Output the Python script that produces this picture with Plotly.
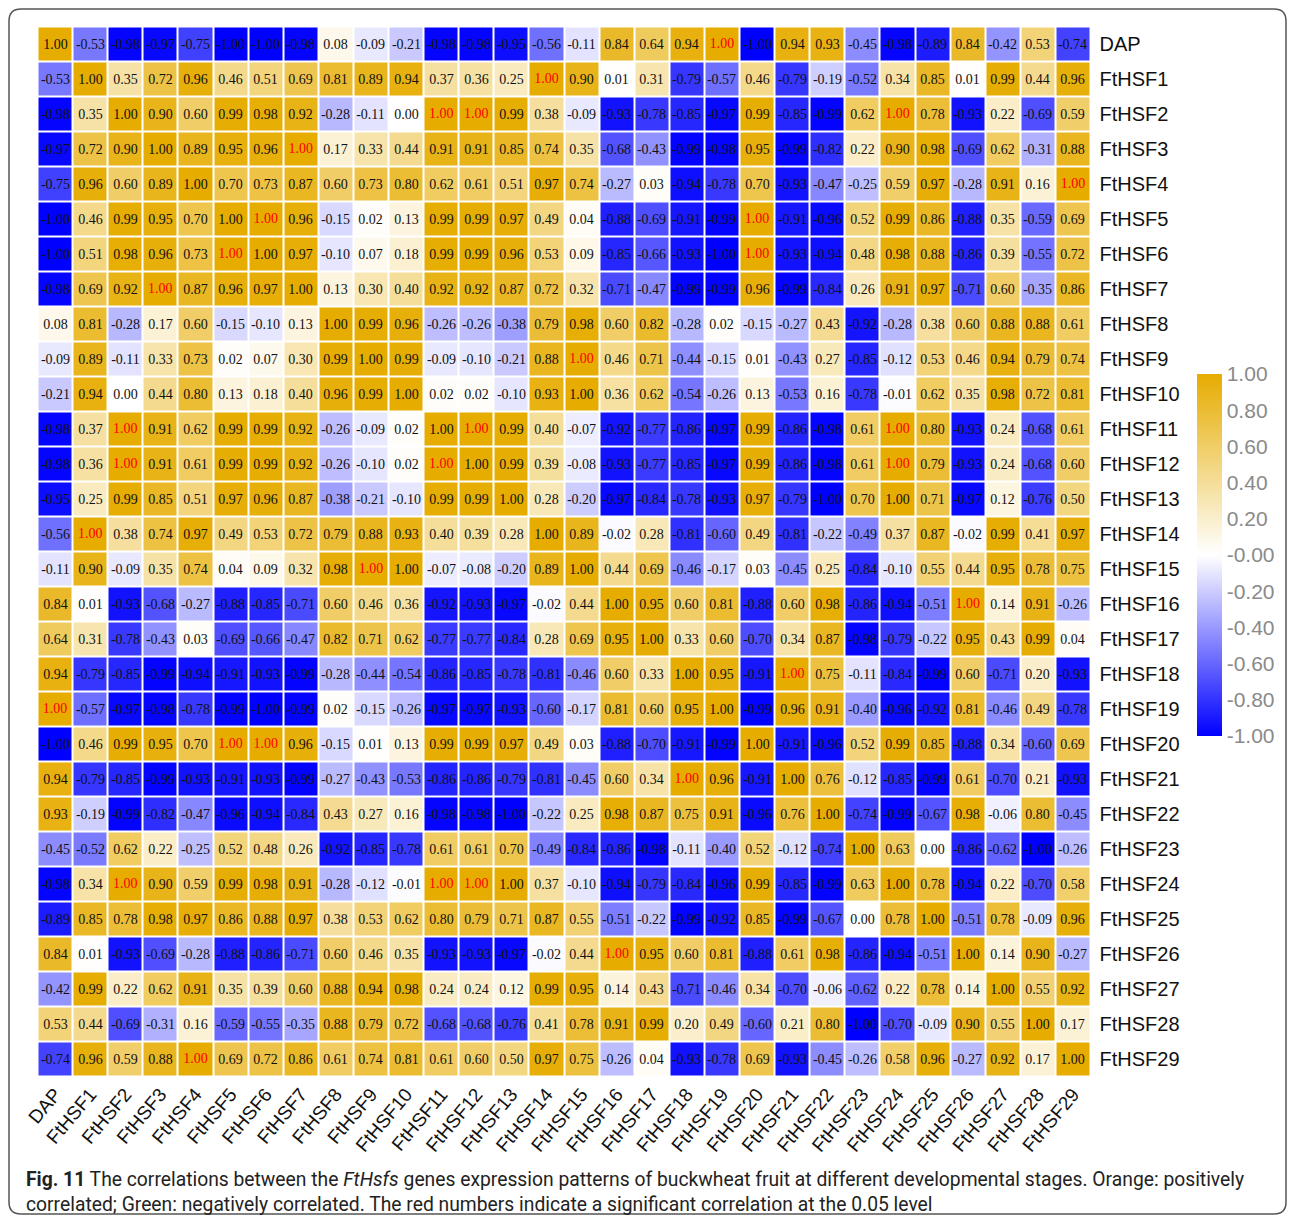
import plotly.graph_objects as go

labels = ["DAP"] + [f"FtHSF{i}" for i in range(1, 30)]

corr = [
    [1.00, -0.53, -0.98, -0.97, -0.75, -1.00, -1.00, -0.98, 0.08, -0.09, -0.21, -0.98, -0.98, -0.95, -0.56, -0.11, 0.84, 0.64, 0.94, 1.00, -1.00, 0.94, 0.93, -0.45, -0.98, -0.89, 0.84, -0.42, 0.53, -0.74],
    [-0.53, 1.00, 0.35, 0.72, 0.96, 0.46, 0.51, 0.69, 0.81, 0.89, 0.94, 0.37, 0.36, 0.25, 1.00, 0.90, 0.01, 0.31, -0.79, -0.57, 0.46, -0.79, -0.19, -0.52, 0.34, 0.85, 0.01, 0.99, 0.44, 0.96],
    [-0.98, 0.35, 1.00, 0.90, 0.60, 0.99, 0.98, 0.92, -0.28, -0.11, 0.00, 1.00, 1.00, 0.99, 0.38, -0.09, -0.93, -0.78, -0.85, -0.97, 0.99, -0.85, -0.99, 0.62, 1.00, 0.78, -0.93, 0.22, -0.69, 0.59],
    [-0.97, 0.72, 0.90, 1.00, 0.89, 0.95, 0.96, 1.00, 0.17, 0.33, 0.44, 0.91, 0.91, 0.85, 0.74, 0.35, -0.68, -0.43, -0.99, -0.98, 0.95, -0.99, -0.82, 0.22, 0.90, 0.98, -0.69, 0.62, -0.31, 0.88],
    [-0.75, 0.96, 0.60, 0.89, 1.00, 0.70, 0.73, 0.87, 0.60, 0.73, 0.80, 0.62, 0.61, 0.51, 0.97, 0.74, -0.27, 0.03, -0.94, -0.78, 0.70, -0.93, -0.47, -0.25, 0.59, 0.97, -0.28, 0.91, 0.16, 1.00],
    [-1.00, 0.46, 0.99, 0.95, 0.70, 1.00, 1.00, 0.96, -0.15, 0.02, 0.13, 0.99, 0.99, 0.97, 0.49, 0.04, -0.88, -0.69, -0.91, -0.99, 1.00, -0.91, -0.96, 0.52, 0.99, 0.86, -0.88, 0.35, -0.59, 0.69],
    [-1.00, 0.51, 0.98, 0.96, 0.73, 1.00, 1.00, 0.97, -0.10, 0.07, 0.18, 0.99, 0.99, 0.96, 0.53, 0.09, -0.85, -0.66, -0.93, -1.00, 1.00, -0.93, -0.94, 0.48, 0.98, 0.88, -0.86, 0.39, -0.55, 0.72],
    [-0.98, 0.69, 0.92, 1.00, 0.87, 0.96, 0.97, 1.00, 0.13, 0.30, 0.40, 0.92, 0.92, 0.87, 0.72, 0.32, -0.71, -0.47, -0.99, -0.99, 0.96, -0.99, -0.84, 0.26, 0.91, 0.97, -0.71, 0.60, -0.35, 0.86],
    [0.08, 0.81, -0.28, 0.17, 0.60, -0.15, -0.10, 0.13, 1.00, 0.99, 0.96, -0.26, -0.26, -0.38, 0.79, 0.98, 0.60, 0.82, -0.28, 0.02, -0.15, -0.27, 0.43, -0.92, -0.28, 0.38, 0.60, 0.88, 0.88, 0.61],
    [-0.09, 0.89, -0.11, 0.33, 0.73, 0.02, 0.07, 0.30, 0.99, 1.00, 0.99, -0.09, -0.10, -0.21, 0.88, 1.00, 0.46, 0.71, -0.44, -0.15, 0.01, -0.43, 0.27, -0.85, -0.12, 0.53, 0.46, 0.94, 0.79, 0.74],
    [-0.21, 0.94, 0.00, 0.44, 0.80, 0.13, 0.18, 0.40, 0.96, 0.99, 1.00, 0.02, 0.02, -0.10, 0.93, 1.00, 0.36, 0.62, -0.54, -0.26, 0.13, -0.53, 0.16, -0.78, -0.01, 0.62, 0.35, 0.98, 0.72, 0.81],
    [-0.98, 0.37, 1.00, 0.91, 0.62, 0.99, 0.99, 0.92, -0.26, -0.09, 0.02, 1.00, 1.00, 0.99, 0.40, -0.07, -0.92, -0.77, -0.86, -0.97, 0.99, -0.86, -0.98, 0.61, 1.00, 0.80, -0.93, 0.24, -0.68, 0.61],
    [-0.98, 0.36, 1.00, 0.91, 0.61, 0.99, 0.99, 0.92, -0.26, -0.10, 0.02, 1.00, 1.00, 0.99, 0.39, -0.08, -0.93, -0.77, -0.85, -0.97, 0.99, -0.86, -0.98, 0.61, 1.00, 0.79, -0.93, 0.24, -0.68, 0.60],
    [-0.95, 0.25, 0.99, 0.85, 0.51, 0.97, 0.96, 0.87, -0.38, -0.21, -0.10, 0.99, 0.99, 1.00, 0.28, -0.20, -0.97, -0.84, -0.78, -0.93, 0.97, -0.79, -1.00, 0.70, 1.00, 0.71, -0.97, 0.12, -0.76, 0.50],
    [-0.56, 1.00, 0.38, 0.74, 0.97, 0.49, 0.53, 0.72, 0.79, 0.88, 0.93, 0.40, 0.39, 0.28, 1.00, 0.89, -0.02, 0.28, -0.81, -0.60, 0.49, -0.81, -0.22, -0.49, 0.37, 0.87, -0.02, 0.99, 0.41, 0.97],
    [-0.11, 0.90, -0.09, 0.35, 0.74, 0.04, 0.09, 0.32, 0.98, 1.00, 1.00, -0.07, -0.08, -0.20, 0.89, 1.00, 0.44, 0.69, -0.46, -0.17, 0.03, -0.45, 0.25, -0.84, -0.10, 0.55, 0.44, 0.95, 0.78, 0.75],
    [0.84, 0.01, -0.93, -0.68, -0.27, -0.88, -0.85, -0.71, 0.60, 0.46, 0.36, -0.92, -0.93, -0.97, -0.02, 0.44, 1.00, 0.95, 0.60, 0.81, -0.88, 0.60, 0.98, -0.86, -0.94, -0.51, 1.00, 0.14, 0.91, -0.26],
    [0.64, 0.31, -0.78, -0.43, 0.03, -0.69, -0.66, -0.47, 0.82, 0.71, 0.62, -0.77, -0.77, -0.84, 0.28, 0.69, 0.95, 1.00, 0.33, 0.60, -0.70, 0.34, 0.87, -0.98, -0.79, -0.22, 0.95, 0.43, 0.99, 0.04],
    [0.94, -0.79, -0.85, -0.99, -0.94, -0.91, -0.93, -0.99, -0.28, -0.44, -0.54, -0.86, -0.85, -0.78, -0.81, -0.46, 0.60, 0.33, 1.00, 0.95, -0.91, 1.00, 0.75, -0.11, -0.84, -0.99, 0.60, -0.71, 0.20, -0.93],
    [1.00, -0.57, -0.97, -0.98, -0.78, -0.99, -1.00, -0.99, 0.02, -0.15, -0.26, -0.97, -0.97, -0.93, -0.60, -0.17, 0.81, 0.60, 0.95, 1.00, -0.99, 0.96, 0.91, -0.40, -0.96, -0.92, 0.81, -0.46, 0.49, -0.78],
    [-1.00, 0.46, 0.99, 0.95, 0.70, 1.00, 1.00, 0.96, -0.15, 0.01, 0.13, 0.99, 0.99, 0.97, 0.49, 0.03, -0.88, -0.70, -0.91, -0.99, 1.00, -0.91, -0.96, 0.52, 0.99, 0.85, -0.88, 0.34, -0.60, 0.69],
    [0.94, -0.79, -0.85, -0.99, -0.93, -0.91, -0.93, -0.99, -0.27, -0.43, -0.53, -0.86, -0.86, -0.79, -0.81, -0.45, 0.60, 0.34, 1.00, 0.96, -0.91, 1.00, 0.76, -0.12, -0.85, -0.99, 0.61, -0.70, 0.21, -0.93],
    [0.93, -0.19, -0.99, -0.82, -0.47, -0.96, -0.94, -0.84, 0.43, 0.27, 0.16, -0.98, -0.98, -1.00, -0.22, 0.25, 0.98, 0.87, 0.75, 0.91, -0.96, 0.76, 1.00, -0.74, -0.99, -0.67, 0.98, -0.06, 0.80, -0.45],
    [-0.45, -0.52, 0.62, 0.22, -0.25, 0.52, 0.48, 0.26, -0.92, -0.85, -0.78, 0.61, 0.61, 0.70, -0.49, -0.84, -0.86, -0.98, -0.11, -0.40, 0.52, -0.12, -0.74, 1.00, 0.63, 0.00, -0.86, -0.62, -1.00, -0.26],
    [-0.98, 0.34, 1.00, 0.90, 0.59, 0.99, 0.98, 0.91, -0.28, -0.12, -0.01, 1.00, 1.00, 1.00, 0.37, -0.10, -0.94, -0.79, -0.84, -0.96, 0.99, -0.85, -0.99, 0.63, 1.00, 0.78, -0.94, 0.22, -0.70, 0.58],
    [-0.89, 0.85, 0.78, 0.98, 0.97, 0.86, 0.88, 0.97, 0.38, 0.53, 0.62, 0.80, 0.79, 0.71, 0.87, 0.55, -0.51, -0.22, -0.99, -0.92, 0.85, -0.99, -0.67, 0.00, 0.78, 1.00, -0.51, 0.78, -0.09, 0.96],
    [0.84, 0.01, -0.93, -0.69, -0.28, -0.88, -0.86, -0.71, 0.60, 0.46, 0.35, -0.93, -0.93, -0.97, -0.02, 0.44, 1.00, 0.95, 0.60, 0.81, -0.88, 0.61, 0.98, -0.86, -0.94, -0.51, 1.00, 0.14, 0.90, -0.27],
    [-0.42, 0.99, 0.22, 0.62, 0.91, 0.35, 0.39, 0.60, 0.88, 0.94, 0.98, 0.24, 0.24, 0.12, 0.99, 0.95, 0.14, 0.43, -0.71, -0.46, 0.34, -0.70, -0.06, -0.62, 0.22, 0.78, 0.14, 1.00, 0.55, 0.92],
    [0.53, 0.44, -0.69, -0.31, 0.16, -0.59, -0.55, -0.35, 0.88, 0.79, 0.72, -0.68, -0.68, -0.76, 0.41, 0.78, 0.91, 0.99, 0.20, 0.49, -0.60, 0.21, 0.80, -1.00, -0.70, -0.09, 0.90, 0.55, 1.00, 0.17],
    [-0.74, 0.96, 0.59, 0.88, 1.00, 0.69, 0.72, 0.86, 0.61, 0.74, 0.81, 0.61, 0.60, 0.50, 0.97, 0.75, -0.26, 0.04, -0.93, -0.78, 0.69, -0.93, -0.45, -0.26, 0.58, 0.96, -0.27, 0.92, 0.17, 1.00],
]

# (row index, column index) of cells whose number is printed in red (p < 0.05)
significant = [
    (0, 19), (19, 0), (1, 14), (14, 1), (2, 11), (2, 12), (2, 24), (11, 2), (12, 2), (24, 2),
    (3, 7), (7, 3), (4, 29), (29, 4), (5, 6), (6, 5), (5, 20), (6, 20), (20, 5), (20, 6),
    (9, 15), (15, 9), (11, 12), (12, 11), (11, 24), (12, 24), (24, 11), (24, 12),
    (16, 26), (26, 16), (18, 21), (21, 18),
]

cbar_vals = [1.0, 0.8, 0.6, 0.4, 0.2, 0.0, -0.2, -0.4, -0.6, -0.8, -1.0]
cbar_text = ["1.00", "0.80", "0.60", "0.40", "0.20", "-0.00", "-0.20", "-0.40", "-0.60", "-0.80", "-1.00"]

# page body has an 8px margin; figure is sized to fit inside it
OFF = 8
W, H = 1295 - 2 * OFF, 1223 - 2 * OFF


def px(x):
    return (x - OFF) / W


def py(y):
    return 1 - (y - OFF) / H


sig_set = set(significant)
n = len(labels)
cell_text = [["" if (r, c) in sig_set else f"{corr[r][c]:.2f}" for c in range(n)] for r in range(n)]
cell_font = "Liberation Serif"

fig = go.Figure()
fig.add_trace(go.Heatmap(
    z=corr, x=labels, y=labels,
    zmin=-1, zmax=1,
    colorscale=[[0, "#0000FF"], [0.5, "#FFFFFF"], [1, "#E6AC00"]],
    xgap=2, ygap=2,
    text=cell_text, texttemplate="%{text}",
    textfont=dict(family=cell_font, size=14, color="#111111"),
    hoverinfo="skip",
    colorbar=dict(
        thickness=25, lenmode="pixels", len=362, xpad=0, ypad=0,
        x=px(1197), xanchor="left", xref="paper",
        y=py(555), yanchor="middle", yref="paper",
        outlinewidth=0, ticks="",
        tickvals=cbar_vals, ticktext=cbar_text,
        tickfont=dict(family="Liberation Sans, Arial, sans-serif", size=21, color="#8a8a8a"),
    ),
))
fig.add_trace(go.Scatter(
    x=[labels[c] for r, c in significant],
    y=[labels[r] for r, c in significant],
    text=[f"{corr[r][c]:.2f}" for r, c in significant],
    mode="text",
    textfont=dict(family=cell_font, size=14, color="#FF0000"),
    hoverinfo="skip", showlegend=False,
))

# rounded frame
x0, x1 = px(9), px(1286)
y0, y1 = py(1214), py(9)
rx, ry = 12 / W, 12 / H
path = (f"M {x0+rx},{y1} L {x1-rx},{y1} Q {x1},{y1} {x1},{y1-ry} L {x1},{y0+ry} "
        f"Q {x1},{y0} {x1-rx},{y0} L {x0+rx},{y0} Q {x0},{y0} {x0},{y0+ry} "
        f"L {x0},{y1-ry} Q {x0},{y1} {x0+rx},{y1} Z")

fig.update_layout(
    width=W, height=H,
    margin=dict(l=0, r=0, t=0, b=0),
    paper_bgcolor="white", plot_bgcolor="white",
    showlegend=False,
    xaxis=dict(
        domain=[px(37.5), px(1090.5)], range=[-0.5, n - 0.5],
        tickangle=-50, ticks="", showgrid=False, zeroline=False, automargin=False,
        tickfont=dict(family="Liberation Sans, Arial, sans-serif", size=19, color="#111111"),
        ticklabelstandoff=2,
    ),
    yaxis=dict(
        domain=[py(1076.5), py(26.5)], range=[n - 0.5, -0.5],
        side="right", ticks="", showgrid=False, zeroline=False, automargin=False,
        tickfont=dict(family="Liberation Sans, Arial, sans-serif", size=20, color="#111111"),
        ticklabelstandoff=8,
    ),
    shapes=[dict(type="path", path=path, xref="paper", yref="paper",
                 line=dict(color="#555555", width=1.5))],
    annotations=[dict(
        xref="paper", yref="paper", x=px(24), y=py(1166), xanchor="left", yanchor="top",
        align="left", showarrow=False,
        text=("<b>Fig. 11</b> The correlations between the <i>FtHsfs</i> genes expression patterns of buckwheat "
              "fruit at different developmental stages. Orange: positively<br>correlated; Green: negatively "
              "correlated. The red numbers indicate a significant correlation at the 0.05 level"),
        font=dict(family="Liberation Sans Narrow, Roboto, sans-serif", size=19.3, color="#222222"),
    )],
)

fig.write_html("out.html")
